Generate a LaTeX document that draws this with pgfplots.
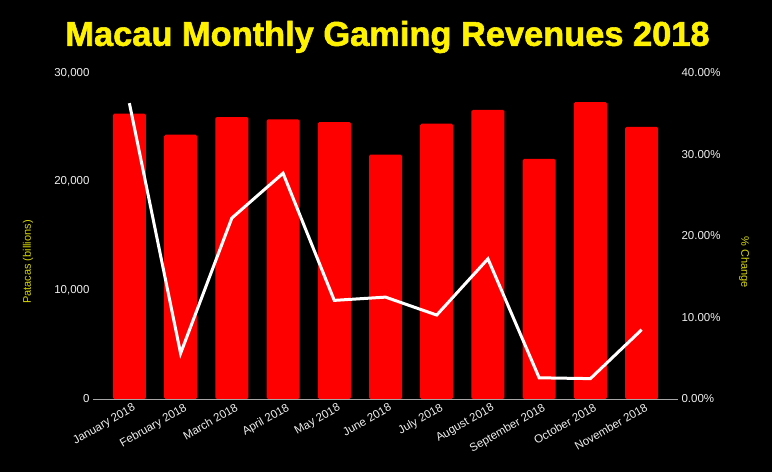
\documentclass[border=0pt]{standalone}
\usepackage{pgfplots}
\pgfplotsset{compat=1.18}
\usepackage{fontspec}
\setmainfont{Liberation Sans}
\newfontfamily\titlefont[BoldFeatures={FakeBold=1.6}]{Liberation Sans}
\definecolor{barred}{RGB}{255,0,0}
\definecolor{labyellow}{RGB}{215,215,0}
\definecolor{ticktext}{RGB}{238,238,238}

% monthly revenue (million patacas) and year-on-year change (%)
\pgfplotstableread{
idx rev   chg
0   26260 36.3
1   24320 5.6
2   25950 22.2
3   25730 27.7
4   25490 12.1
5   22490 12.5
6   25330 10.3
7   26600 17.2
8   22090 2.6
9   27330 2.5
10  25040 8.5
}\gaming

\begin{document}
\begin{tikzpicture}[x=1pt,y=1pt]
\fill[black] (0,0) rectangle (772,472);
\node[text=yellow, font=\titlefont\bfseries\fontsize{34.4}{37}\selectfont] at (387.5,435) {Macau Monthly Gaming Revenues 2018};

\pgfplotsset{
  every axis/.append style={
    at={(93pt,73pt)}, anchor=south west,
    scale only axis, width=585pt, height=326pt,
    xmin=-0.71, xmax=10.71,
    axis line style={draw=none},
    major tick length=0pt,
    tick label style={text=ticktext, font=\fontsize{11.5}{13}\selectfont},
    /pgf/number format/assume math mode=true,
  },
}

\begin{axis}[
  ymin=0, ymax=30000,
  ytick={0,10000,20000,30000},
  yticklabel style={/pgf/number format/1000 sep={,}},
  scaled y ticks=false,
  xtick={0,...,10},
  xticklabels={January 2018, February 2018, March 2018, April 2018, May 2018, June 2018, July 2018, August 2018, September 2018, October 2018, November 2018},
  x tick label style={rotate=30, anchor=north east, xshift=4pt, yshift=-1pt},
  ylabel={Patacas (billions)},
  ylabel style={at={(axis description cs:-0.111,0.42)}, anchor=center, text=labyellow, font=\fontsize{11}{13}\selectfont},
]
\addplot[ybar, bar width=33pt, fill=barred, draw=none, rounded corners=1.5pt] table[x=idx, y=rev] {\gaming};
\draw[gray!70, line width=1pt] (rel axis cs:0,0) -- (rel axis cs:1,0);
\end{axis}

\begin{axis}[
  ymin=0, ymax=40,
  ytick={0,10,20,30,40},
  yticklabel pos=right,
  yticklabel={\pgfmathprintnumber[fixed,fixed zerofill,precision=2]{\tick}\%},
  xtick=\empty,
  ylabel={\% Change},
  ylabel style={at={(axis description cs:1.113,0.42)}, anchor=center, rotate=180, text=labyellow, font=\fontsize{11}{13}\selectfont},
]
\addplot[white, line width=3pt, no marks] table[x=idx, y=chg] {\gaming};
\end{axis}
\end{tikzpicture}
\end{document}
